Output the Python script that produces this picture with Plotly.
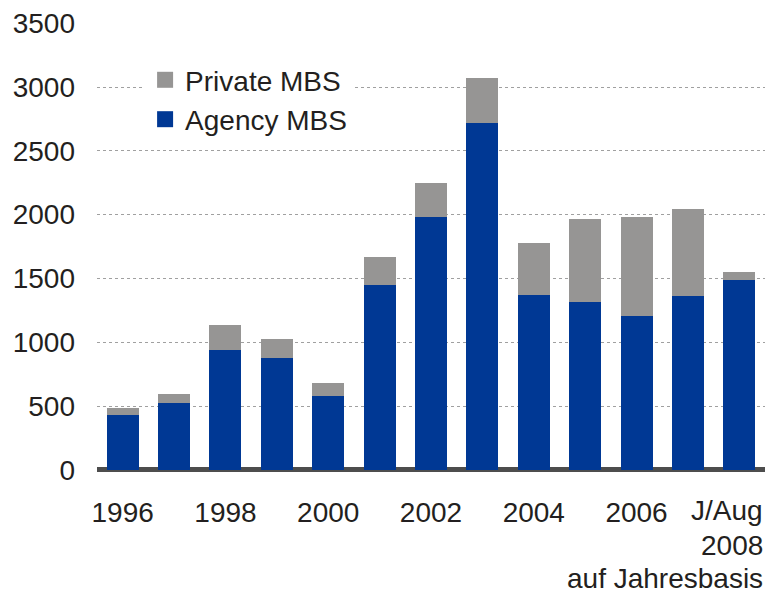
import plotly.graph_objects as go

categories = ["1996", "1997", "1998", "1999", "2000", "2001", "2002",
              "2003", "2004", "2005", "2006", "2007", "2008"]
agency_mbs = [431, 525, 940, 878, 580, 1450, 1983, 2719, 1371, 1317, 1207, 1364, 1489]
private_mbs = [55, 71, 196, 149, 102, 219, 266, 353, 408, 650, 776, 681, 63]
tick_vals = ["1996", "1998", "2000", "2002", "2004", "2006"]
tick_text = ["1996", "1998", "2000", "2002", "2004", "2006"]
last_label_lines = ["J/Aug", "2008", "auf Jahresbasis"]
y_ticks = [0, 500, 1000, 1500, 2000, 2500, 3000, 3500]

FONT = "Liberation Sans, Arial, sans-serif"
TXT = "#231f20"
BLUE = "#003894"
GREY = "#969594"

W, H = 767, 595
M_T, M_B = 23, 120
plot_h = H - M_T - M_B

fig = go.Figure()
fig.add_trace(go.Bar(x=categories, y=agency_mbs, name="Agency MBS", showlegend=False,
                     marker=dict(color=BLUE, line=dict(width=0))))
fig.add_trace(go.Bar(x=categories, y=private_mbs, name="Private MBS", showlegend=False,
                     marker=dict(color=GREY, line=dict(width=0))))
# legend entries with larger square swatches
fig.add_trace(go.Scatter(x=[None], y=[None], mode="markers", name="Agency MBS",
                         marker=dict(symbol="square", size=19, color=BLUE, line=dict(width=0))))
fig.add_trace(go.Scatter(x=[None], y=[None], mode="markers", name="Private MBS",
                         marker=dict(symbol="square", size=19, color=GREY, line=dict(width=0))))

fig.update_layout(
    width=W, height=H,
    margin=dict(l=97, r=2, t=M_T, b=M_B),
    barmode="stack", bargap=0.376,
    plot_bgcolor="white", paper_bgcolor="white",
    font=dict(family=FONT, size=28, color=TXT),
    showlegend=True,
    legend=dict(x=0.072, y=0.929, xanchor="left", yanchor="top",
                bgcolor="white", traceorder="reversed",
                font=dict(size=28, color=TXT), tracegroupgap=0,
                itemwidth=30),
)
fig.update_yaxes(range=[-40, 3502], tickvals=y_ticks,
                 showgrid=True, gridcolor="#a0a0a0", griddash="dot", gridwidth=1,
                 zeroline=True, zerolinecolor="#4d4d4d", zerolinewidth=5,
                 showline=False, ticks="", ticklabelstandoff=21,
                 tickfont=dict(size=28, color=TXT))
fig.update_xaxes(type="category", tickvals=tick_vals, ticktext=tick_text,
                 range=[-0.5, 12.5],
                 showgrid=False, showline=False, ticks="",
                 ticklabelstandoff=18, tickfont=dict(size=28, color=TXT))

# multi-line last category label, right-aligned
line_centers_px = [511, 545, 578]
for txt, cy in zip(last_label_lines, line_centers_px):
    fig.add_annotation(xref="paper", yref="paper", x=1,
                       y=(H - M_B - cy) / plot_h,
                       xanchor="right", yanchor="middle", align="right",
                       text=txt, showarrow=False, xshift=-1, borderpad=0,
                       font=dict(size=28, color=TXT, family=FONT))

fig.write_html("out.html", config={"displayModeBar": False},
               post_script="document.body.style.margin='0';document.body.style.overflow='hidden';")
